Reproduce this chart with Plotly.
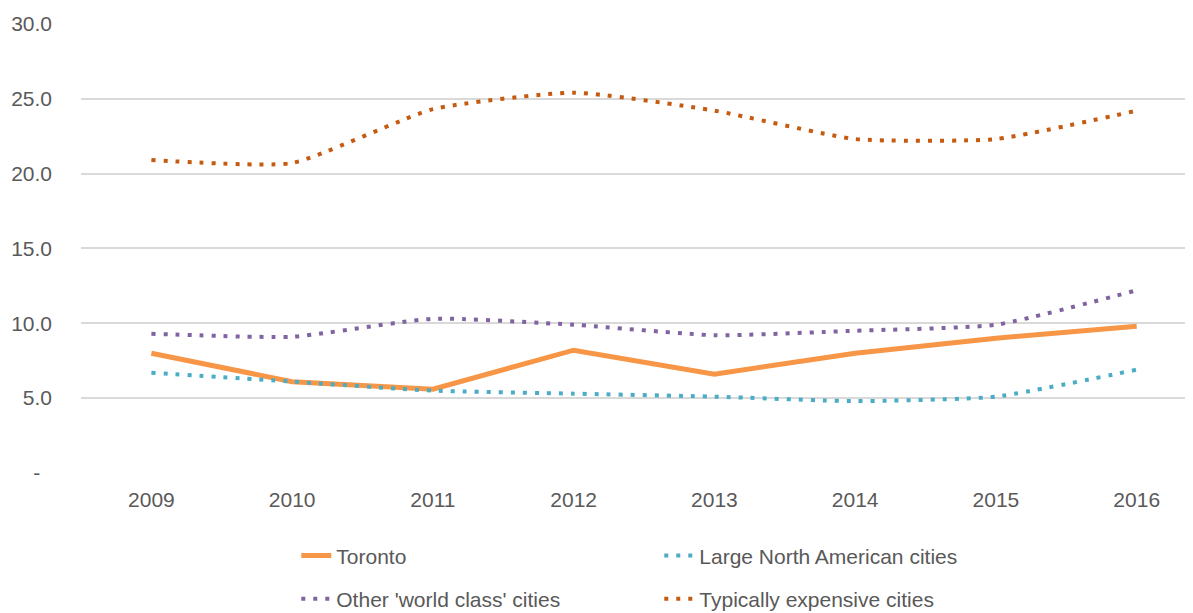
import plotly.graph_objects as go

years = ["2009", "2010", "2011", "2012", "2013", "2014", "2015", "2016"]
toronto = [8.0, 6.1, 5.6, 8.2, 6.6, 8.0, 9.0, 9.8]
large_na = [6.7, 6.1, 5.5, 5.3, 5.1, 4.8, 5.1, 6.9]
world_class = [9.3, 9.1, 10.3, 9.9, 9.2, 9.5, 9.9, 12.2]
expensive = [20.9, 20.7, 24.3, 25.4, 24.2, 22.3, 22.3, 24.2]

y_ticks = [0, 5, 10, 15, 20, 25, 30]
y_ticktext = ["-\u00a0\u00a0", "5.0", "10.0", "15.0", "20.0", "25.0", "30.0"]

FONT = "Liberation Sans"
TXT = "#595959"
FS = 21
LFS = 21

fig = go.Figure()
fig.add_trace(go.Scatter(x=years, y=toronto, name="Toronto", mode="lines",
                         line=dict(color="#F79646", width=5), legend="legend"))
fig.add_trace(go.Scatter(x=years, y=large_na, name="Large North American cities", mode="lines",
                         line=dict(color="#4BACC6", width=4, dash="4px,8px", shape="spline", smoothing=0.5),
                         legend="legend"))
fig.add_trace(go.Scatter(x=years, y=world_class, name="Other 'world class' cities", mode="lines",
                         line=dict(color="#8064A2", width=4, dash="4px,8px", shape="spline", smoothing=0.5),
                         legend="legend2"))
fig.add_trace(go.Scatter(x=years, y=expensive, name="Typically expensive cities", mode="lines",
                         line=dict(color="#C55A11", width=4, dash="4px,8px", shape="spline", smoothing=0.5),
                         legend="legend2"))

leg_common = dict(orientation="h", xanchor="left", yanchor="middle", x=0.1936,
                  font=dict(family=FONT, size=LFS, color=TXT), entrywidth=318,
                  bgcolor="rgba(0,0,0,0)", itemwidth=30)

# page body has an 8px default margin, so the figure is made 8px smaller
fig.update_layout(
    width=1185, height=605,
    margin=dict(l=73, r=0, t=15, b=140, autoexpand=False),
    plot_bgcolor="white", paper_bgcolor="white",
    font=dict(family=FONT, size=FS, color=TXT),
    xaxis=dict(type="category", range=[-0.5, 7.4], showgrid=False, showline=False,
               ticks="", tickfont=dict(family=FONT, size=FS, color=TXT), ticklabelstandoff=12),
    yaxis=dict(range=[0, 30.05], tickvals=y_ticks, ticktext=y_ticktext, showgrid=True,
               gridcolor="#D9D9D9", gridwidth=1.5, zeroline=False, showline=False,
               ticks="", tickfont=dict(family=FONT, size=FS, color=TXT), ticklabelstandoff=28),
    legend=dict(y=-0.184, **leg_common),
    legend2=dict(y=-0.28, **leg_common),
    showlegend=True,
)

fig.write_html("out.html")
